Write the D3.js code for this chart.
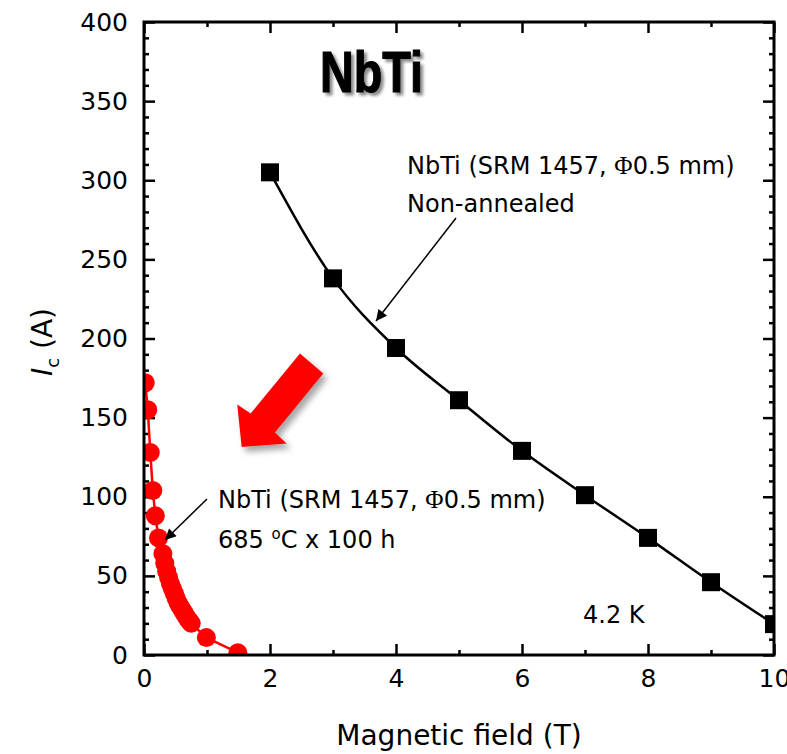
<!DOCTYPE html>
<html>
<head>
<meta charset="utf-8">
<script src="https://cdn.jsdelivr.net/npm/d3@7"></script>
<style>
  html, body { margin: 0; padding: 0; background: #fff; }
  svg { display: block; }
  text { font-family: "DejaVu Sans", sans-serif; fill: #000; }
</style>
</head>
<body>
<svg id="chart" width="787" height="754"></svg>
<script>
// ---------------- data ----------------
const annealedField = [0.02, 0.06, 0.10, 0.14, 0.18, 0.23, 0.30, 0.33, 0.36, 0.39, 0.42, 0.45, 0.48, 0.51, 0.54, 0.57, 0.60, 0.63, 0.66, 0.69, 0.72, 0.75, 0.99, 1.49];
const annealedIc    = [172, 155, 128, 104, 88, 74, 64, 58, 53, 49, 45, 42, 39, 36, 33, 31, 29, 27, 25, 23, 21.5, 20, 11, 1.5];
const rawField = [2, 3, 4, 5, 6, 7, 8, 9, 10];
const rawIc    = [305, 238, 194, 161, 129, 101, 74, 46, 19.5];
const xTicks = [0, 2, 4, 6, 8, 10];
const xMinorTicks = [1, 3, 5, 7, 9];
const yTicks = [0, 50, 100, 150, 200, 250, 300, 350, 400];
const yMinorTicks = d3.range(0, 401, 10).filter(v => v % 50 !== 0);

// ---------------- layout ----------------
const svg = d3.select("#chart");
const x = d3.scaleLinear().domain([0, 10]).range([144, 774]);
const y = d3.scaleLinear().domain([0, 400]).range([655, 22]);
const [x0, x1] = x.range();
const [y0, y1] = y.range();

const defs = svg.append("defs");
defs.append("clipPath").attr("id", "plotclip")
  .append("rect").attr("x", x0).attr("y", y1).attr("width", x1 - x0).attr("height", y0 - y1);
const sh = defs.append("filter").attr("id", "shadow").attr("x", "-30%").attr("y", "-30%").attr("width", "160%").attr("height", "160%");
sh.append("feDropShadow").attr("dx", 4).attr("dy", 5).attr("stdDeviation", 3).attr("flood-color", "#000").attr("flood-opacity", 0.35);
const sh2 = defs.append("filter").attr("id", "tshadow").attr("x", "-20%").attr("y", "-20%").attr("width", "140%").attr("height", "140%");
sh2.append("feDropShadow").attr("dx", 3).attr("dy", 3).attr("stdDeviation", 1.5).attr("flood-color", "#000").attr("flood-opacity", 0.45);
defs.append("marker").attr("id", "ahead").attr("viewBox", "0 0 10 10").attr("refX", 10).attr("refY", 5)
  .attr("markerWidth", 16).attr("markerHeight", 11).attr("markerUnits", "userSpaceOnUse").attr("orient", "auto")
  .append("path").attr("d", "M0,0 L10,5 L0,10 Z").attr("fill", "#000");

// ---------------- axes ----------------
function styleAxis(g) {
  g.select(".domain").remove();
  g.selectAll(".tick line").attr("stroke", "#000").attr("stroke-width", 2.5);
  g.selectAll(".tick text").style("font-family", "'DejaVu Sans', sans-serif").style("font-size", "25px").attr("fill", "#000");
}
svg.append("g").attr("transform", `translate(0,${y0})`)
  .call(d3.axisBottom(x).tickValues(xTicks).tickSizeInner(-11).tickSizeOuter(0).tickPadding(14).tickFormat(d3.format("d")))
  .call(styleAxis);
svg.append("g").attr("transform", `translate(0,${y0})`)
  .call(d3.axisBottom(x).tickValues(xMinorTicks).tickSize(-5).tickFormat(""))
  .call(styleAxis);
svg.append("g").attr("transform", `translate(0,${y1})`)
  .call(d3.axisTop(x).tickValues(xTicks).tickSize(-11).tickFormat(""))
  .call(styleAxis);
svg.append("g").attr("transform", `translate(0,${y1})`)
  .call(d3.axisTop(x).tickValues(xMinorTicks).tickSize(-5).tickFormat(""))
  .call(styleAxis);
svg.append("g").attr("transform", `translate(${x0},0)`)
  .call(d3.axisLeft(y).tickValues(yTicks).tickSizeInner(-11).tickSizeOuter(0).tickPadding(16).tickFormat(d3.format("d")))
  .call(styleAxis);
svg.append("g").attr("transform", `translate(${x0},0)`)
  .call(d3.axisLeft(y).tickValues(yMinorTicks).tickSize(-5).tickFormat(""))
  .call(styleAxis);
svg.append("g").attr("transform", `translate(${x1},0)`)
  .call(d3.axisRight(y).tickValues(yTicks).tickSize(-11).tickFormat(""))
  .call(styleAxis);
svg.append("g").attr("transform", `translate(${x1},0)`)
  .call(d3.axisRight(y).tickValues(yMinorTicks).tickSize(-5).tickFormat(""))
  .call(styleAxis);

// ---------------- data marks ----------------
const plot = svg.append("g").attr("clip-path", "url(#plotclip)");
const rawPts = rawField.map((f, i) => [f, rawIc[i]]);
const annPts = annealedField.map((f, i) => [f, annealedIc[i]]);

plot.append("path").datum(rawPts)
  .attr("fill", "none").attr("stroke", "#000").attr("stroke-width", 2.5)
  .attr("d", d3.line().x(d => x(d[0])).y(d => y(d[1])).curve(d3.curveMonotoneX));
const sq = 18;
plot.selectAll("rect.sq").data(rawPts).join("rect").attr("class", "sq")
  .attr("x", d => x(d[0]) - sq / 2).attr("y", d => y(d[1]) - sq / 2)
  .attr("width", sq).attr("height", sq).attr("fill", "#000");

plot.append("path").datum(annPts)
  .attr("fill", "none").attr("stroke", "#ff0000").attr("stroke-width", 2.5)
  .attr("d", d3.line().x(d => x(d[0])).y(d => y(d[1])));
plot.selectAll("circle.pt").data(annPts).join("circle").attr("class", "pt")
  .attr("cx", d => x(d[0])).attr("cy", d => y(d[1])).attr("r", 9.5).attr("fill", "#ff0000");

// frame
svg.append("rect").attr("x", x0).attr("y", y1).attr("width", x1 - x0).attr("height", y0 - y1)
  .attr("fill", "none").attr("stroke", "#000").attr("stroke-width", 3);

// ---------------- big red arrow (data-space anchor) ----------------
const arrowTip = [1.55, 131.5];
const tipPx = [x(arrowTip[0]), y(arrowTip[1])];
const arrowShape = [[0, 0], [-4.4, -42.4], [9, -33.4], [58.3, -93.4], [81.6, -73.4], [33.3, -14.4], [45, -3.4]];
svg.append("path")
  .attr("d", d3.line()(arrowShape.map(p => [tipPx[0] + p[0], tipPx[1] + p[1]])) + "Z")
  .attr("fill", "#ff0000").attr("filter", "url(#shadow)");

// ---------------- title ----------------
svg.append("text").attr("x", 320).attr("y", 92)
  .attr("textLength", 103).attr("lengthAdjust", "spacingAndGlyphs")
  .style("font-family", "'Liberation Sans Narrow', 'Liberation Sans', sans-serif")
  .style("font-weight", "bold").style("font-size", "58px")
  .attr("stroke", "#000").attr("stroke-width", 1.2)
  .attr("filter", "url(#tshadow)")
  .text("NbTi");

// ---------------- annotations ----------------
const ann = svg.append("g").style("font-size", "24px");
function srmLabel(xp, yp) {
  const t = ann.append("text").attr("x", xp).attr("y", yp);
  t.append("tspan").text("NbTi (SRM 1457, ");
  t.append("tspan").style("font-family", "'Liberation Serif', serif").style("font-size", "25px").text("\u03A6");
  t.append("tspan").text("0.5 mm)");
}
srmLabel(407, 174);
ann.append("text").attr("x", 407).attr("y", 212).text("Non-annealed");
svg.append("line").attr("x1", 456).attr("y1", 218).attr("x2", 376).attr("y2", 321)
  .attr("stroke", "#000").attr("stroke-width", 1.5).attr("marker-end", "url(#ahead)");

srmLabel(218, 508);
const t2 = ann.append("text").attr("x", 218).attr("y", 548);
t2.append("tspan").text("685 ");
t2.append("tspan").attr("dy", -9).style("font-size", "15px").text("o");
t2.append("tspan").attr("dy", 9).text("C x 100 h");
svg.append("line").attr("x1", 207).attr("y1", 499).attr("x2", 165).attr("y2", 540)
  .attr("stroke", "#000").attr("stroke-width", 1.5).attr("marker-end", "url(#ahead)");

ann.append("text").attr("x", 583).attr("y", 623).text("4.2 K");

// ---------------- axis titles ----------------
svg.append("text").attr("x", (x0 + x1) / 2).attr("y", 745).attr("text-anchor", "middle")
  .style("font-size", "28px").text("Magnetic field (T)");
const yl = svg.append("text").attr("transform", "translate(52,342) rotate(-90)").attr("text-anchor", "middle")
  .style("font-size", "28px");
yl.append("tspan").style("font-style", "italic").text("I");
yl.append("tspan").attr("dy", 7).style("font-size", "18px").text("c");
yl.append("tspan").attr("dy", -7).text(" (A)");
</script>
</body>
</html>
